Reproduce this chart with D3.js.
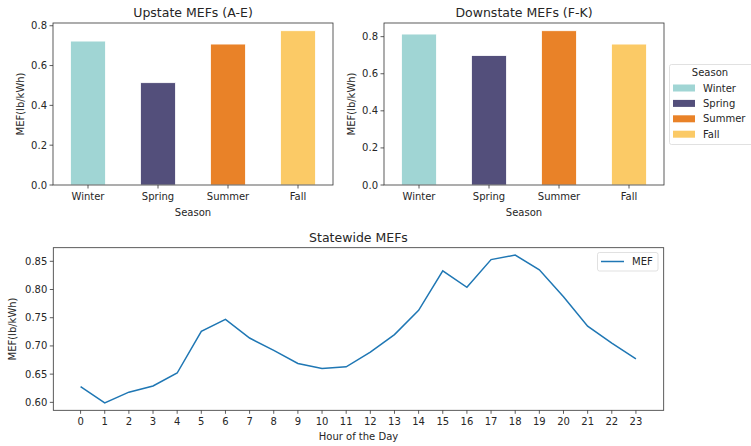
<!DOCTYPE html>
<html>
<head>
<meta charset="utf-8">
<title>MEFs</title>
<script src="https://d3js.org/d3.v7.min.js"></script>
<style>
	body { margin: 0; background: #fff; }
	text { font-family: "DejaVu Sans", sans-serif; fill: #262626; }
</style>
</head>
<body>
<svg id="chart" width="751" height="446"></svg>
<script>

// data
var seasons = ["Winter", "Spring", "Summer", "Fall"];
var seasonColors = ["#a0d5d4", "#534f7b", "#e98228", "#fbca66"];
var upstate = [0.723, 0.514, 0.708, 0.775];
var downstate = [0.814, 0.698, 0.832, 0.760];
var hours = d3.range(0, 24);
var hourly = [0.628, 0.599, 0.618, 0.629, 0.652, 0.726, 0.747, 0.714, 0.692, 0.669, 0.660, 0.663,
	0.689, 0.720, 0.763, 0.833, 0.804, 0.853, 0.861, 0.835, 0.787, 0.735, 0.705, 0.677];
var barTicks = [0, 0.2, 0.4, 0.6, 0.8];
var lineTicks = [0.60, 0.65, 0.70, 0.75, 0.80, 0.85];

var svg = d3.select("#chart");
var spine = "#333";

function frame(g, x0, y0, w, h) {
	g.append("rect").attr("x", x0).attr("y", y0).attr("width", w).attr("height", h)
		.attr("fill", "none").attr("stroke", spine).attr("stroke-width", 0.8);
}

function yAxis(g, y, x0, ticks, fmt) {
	ticks.forEach(function(t) {
		g.append("line").attr("x1", x0 - 3.5).attr("x2", x0).attr("y1", y(t)).attr("y2", y(t))
			.attr("stroke", spine).attr("stroke-width", 0.8);
		g.append("text").attr("x", x0 - 6).attr("y", y(t)).attr("dy", "0.35em")
			.attr("text-anchor", "end").attr("font-size", 10).text(fmt(t));
	});
}

// season bar panels
function barPanel(vals, x0, w, label, ylab, labX) {
	var y0 = 23, h = 162;
	var g = svg.append("g");
	var ymax = d3.max(vals) * 1.05;
	var y = d3.scaleLinear().domain([0, ymax]).range([y0 + h, y0]);
	var x = d3.scaleBand().domain(seasons).range([x0, x0 + w]).paddingInner(0.5).paddingOuter(0.25);

	g.selectAll("rect.bar").data(vals).enter().append("rect")
		.attr("class", "bar")
		.attr("x", function(d, i) { return x(seasons[i]); })
		.attr("width", x.bandwidth())
		.attr("y", function(d) { return y(d); })
		.attr("height", function(d) { return y(0) - y(d); })
		.attr("fill", function(d, i) { return seasonColors[i]; })
		.attr("stroke", "#fff").attr("stroke-width", 0.8);

	frame(g, x0, y0, w, h);
	yAxis(g, y, x0, barTicks, d3.format(".1f"));

	seasons.forEach(function(s) {
		var cx = x(s) + x.bandwidth() / 2;
		g.append("line").attr("x1", cx).attr("x2", cx).attr("y1", y0 + h).attr("y2", y0 + h + 3.5)
			.attr("stroke", spine).attr("stroke-width", 0.8);
		g.append("text").attr("x", cx).attr("y", y0 + h + 15).attr("text-anchor", "middle")
			.attr("font-size", 10).text(s);
	});

	g.append("text").attr("x", x0 + w / 2).attr("y", 216).attr("text-anchor", "middle")
		.attr("font-size", 10).text("Season");
	g.append("text").attr("transform", "translate(" + labX + "," + (y0 + h / 2) + ") rotate(-90)")
		.attr("dy", "0.35em").attr("text-anchor", "middle").attr("font-size", 10).text(ylab);
	g.append("text").attr("x", x0 + w / 2).attr("y", 17).attr("text-anchor", "middle")
		.attr("font-size", 12.5).text(label);
}

barPanel(upstate, 53, 280, "Upstate MEFs (A-E)", "MEF(lb/kWh)", 20);
barPanel(downstate, 384, 280, "Downstate MEFs (F-K)", "MEF(lb/kWh)", 351);

// season legend
var lg = svg.append("g");
lg.append("rect").attr("x", 669.5).attr("y", 64.5).attr("width", 84).attr("height", 80).attr("rx", 2)
	.attr("fill", "#fff").attr("stroke", "#d9d9d9").attr("stroke-width", 0.8);
lg.append("text").attr("x", 710).attr("y", 72).attr("dy", "0.35em").attr("text-anchor", "middle")
	.attr("font-size", 10).text("Season");
seasons.forEach(function(s, i) {
	var cy = 88 + i * 15.4;
	lg.append("rect").attr("x", 673).attr("y", cy - 3.5).attr("width", 22).attr("height", 7)
		.attr("fill", seasonColors[i]);
	lg.append("text").attr("x", 703).attr("y", cy).attr("dy", "0.35em").attr("font-size", 10).text(s);
});

// statewide line panel
var lx0 = 53.3, ly0 = 247.7, lw = 610.4, lh = 162.6;
var lgp = svg.append("g");
var xl = d3.scaleLinear().domain([-1.13, 24.15]).range([lx0, lx0 + lw]);
var ext = d3.extent(hourly), pad = (ext[1] - ext[0]) * 0.05;
var yl = d3.scaleLinear().domain([ext[0] - pad, ext[1] + pad]).range([ly0 + lh, ly0]);

lgp.append("path").datum(hourly)
	.attr("d", d3.line().x(function(d, i) { return xl(hours[i]); }).y(function(d) { return yl(d); }))
	.attr("fill", "none").attr("stroke", "#1f77b4").attr("stroke-width", 1.5);

frame(lgp, lx0, ly0, lw, lh);
yAxis(lgp, yl, lx0, lineTicks, d3.format(".2f"));
hours.forEach(function(hr) {
	lgp.append("line").attr("x1", xl(hr)).attr("x2", xl(hr)).attr("y1", ly0 + lh).attr("y2", ly0 + lh + 3.5)
		.attr("stroke", spine).attr("stroke-width", 0.8);
	lgp.append("text").attr("x", xl(hr)).attr("y", ly0 + lh + 15).attr("text-anchor", "middle")
		.attr("font-size", 10).text(hr);
});
lgp.append("text").attr("x", lx0 + lw / 2).attr("y", 440).attr("text-anchor", "middle")
	.attr("font-size", 10).text("Hour of the Day");
lgp.append("text").attr("transform", "translate(12.5," + (ly0 + lh / 2) + ") rotate(-90)")
	.attr("dy", "0.35em").attr("text-anchor", "middle").attr("font-size", 10).text("MEF(lb/kWh)");
lgp.append("text").attr("x", lx0 + lw / 2).attr("y", 241.7).attr("text-anchor", "middle")
	.attr("font-size", 12.5).text("Statewide MEFs");

// line legend
lgp.append("rect").attr("x", 597.5).attr("y", 252.5).attr("width", 60.5).attr("height", 18.5).attr("rx", 2)
	.attr("fill", "#fff").attr("stroke", "#d9d9d9").attr("stroke-width", 0.8);
lgp.append("line").attr("x1", 601).attr("x2", 624).attr("y1", 261.5).attr("y2", 261.5)
	.attr("stroke", "#1f77b4").attr("stroke-width", 1.5);
lgp.append("text").attr("x", 632).attr("y", 261.5).attr("dy", "0.35em").attr("font-size", 10).text("MEF");

</script>
</body>
</html>
